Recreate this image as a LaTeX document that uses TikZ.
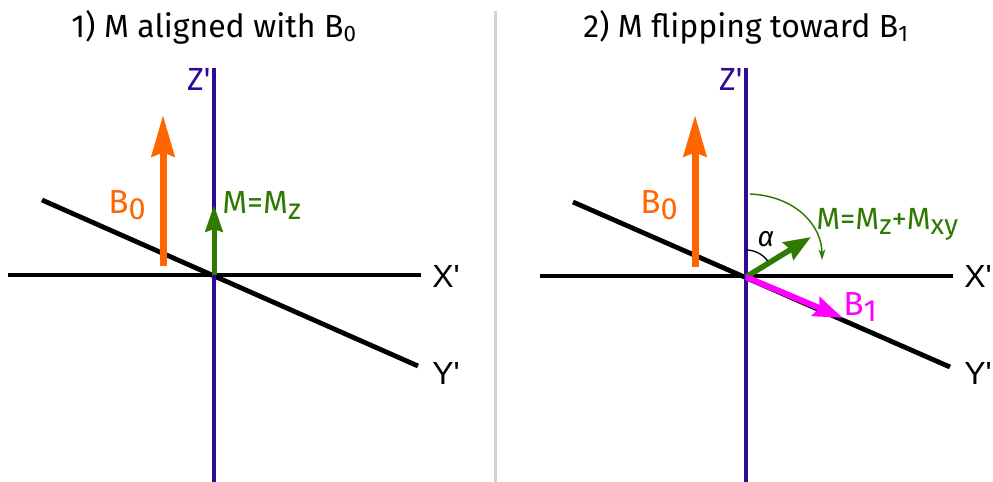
\documentclass[tikz,border=0pt]{standalone}
\usepackage{fontspec}
\setmainfont{Fira Sans}
\newfontfamily\arialf{Liberation Sans}
\usetikzlibrary{arrows.meta}
\definecolor{zaxis}{HTML}{2E0A96}
\definecolor{borange}{HTML}{FF6600}
\definecolor{mgreen}{HTML}{2F7A00}
\definecolor{bmag}{HTML}{FF00FF}
\definecolor{sepgray}{HTML}{D3D3D3}
\begin{document}
\begin{tikzpicture}[x=0.75pt,y=-0.75pt,
  axis/.style={line width=3.6pt,black},
  zax/.style={line width=3pt,zaxis},
  bzero/.style={line width=5.25pt,borange,-{Stealth[length=31pt,width=17pt,inset=3pt]}},
  mvec/.style={line width=3.75pt,mgreen,-{Stealth[length=20pt,width=13pt,inset=2pt]}},
  bone/.style={line width=4.5pt,bmag,-{Stealth[length=22pt,width=15pt,inset=3pt]}},
  title/.style={font=\fontsize{24pt}{28pt}\selectfont,anchor=base,inner sep=0pt},
  zlab/.style={font=\fontsize{24pt}{28pt}\selectfont,zaxis,inner sep=0pt},
  axlab/.style={font=\arialf\fontsize{24pt}{28pt}\selectfont,black,inner sep=0pt,anchor=west},
  blab/.style={font=\fontsize{25pt}{28pt}\selectfont,borange,inner sep=0pt},
  mlab/.style={font=\fontsize{24pt}{28pt}\selectfont,mgreen,inner sep=0pt},
]
\useasboundingbox (0,0) rectangle (993,482);
% separator
\coordinate (septop) at (495,11);
\coordinate (sepbot) at (495,482);
\draw[sepgray,line width=2.25pt] (septop) -- (sepbot);

% ---------- panel 1 ----------
\node[title] (t1) at (214,37) {1) M aligned with B\textsubscript{0}};
\coordinate (O1) at (214,275);
\coordinate (x1a) at (8,275);
\coordinate (x1b) at (421,275);
\coordinate (y1a) at (42,200);
\coordinate (y1b) at (418,366);
\coordinate (z1a) at (214,68);
\coordinate (z1b) at (214,482);
\draw[axis] (x1a) -- (x1b);
\draw[axis] (y1a) -- (y1b);
\draw[zax] (z1a) -- (z1b);
\node[zlab,anchor=north east] (zl1) at (211,68) {Z\textquotesingle};
\node[axlab] (xl1) at (432,276) {X'};
\node[axlab] (yl1) at (432,373) {Y'};
\coordinate (b0a) at (163,266);
\coordinate (b0b) at (163,115);
\draw[bzero] (b0a) -- (b0b);
\node[blab,anchor=base west] (bl1) at (108,213) {B\raisebox{-4.5pt}{\fontsize{23pt}{26pt}\selectfont 0}};
\coordinate (m1b) at (214,205);
\draw[mvec] (O1) -- (m1b);
\node[mlab,anchor=base west] (ml1) at (222,213) {M=M\raisebox{-4.5pt}{\fontsize{22pt}{26pt}\selectfont z}};

% ---------- panel 2 ----------
\node[title] (t2) at (746,37) {2) M flipping toward B\textsubscript{1}};
\coordinate (O2) at (746,277);
\coordinate (x2a) at (540,276);
\coordinate (x2b) at (953,276);
\coordinate (y2a) at (573,202);
\coordinate (y2b) at (950,367);
\coordinate (z2a) at (746,68);
\coordinate (z2b) at (746,482);
\draw[axis] (x2a) -- (x2b);
\draw[axis] (y2a) -- (y2b);
\draw[zax] (z2a) -- (z2b);
\node[zlab,anchor=north east] (zl2) at (743,68) {Z\textquotesingle};
\node[axlab] (xl2) at (964,276) {X'};
\node[axlab] (yl2) at (964,373) {Y'};
\coordinate (b0c) at (695,267);
\coordinate (b0d) at (695,115);
\draw[bzero] (b0c) -- (b0d);
\node[blab,anchor=base west] (bl2) at (640,213) {B\raisebox{-4.5pt}{\fontsize{23pt}{26pt}\selectfont 0}};
\coordinate (m2b) at (811,237);
\draw[mvec,line width=4.2pt,-{Stealth[length=20pt,width=15pt,inset=2pt]}] (O2) -- (m2b);
\coordinate (b1b) at (843,318);
\draw[bone] (O2) -- (b1b);
\node[font=\fontsize{25pt}{28pt}\selectfont,bmag,inner sep=0pt,anchor=base west] (b1l) at (843,315) {B\raisebox{-4.5pt}{\fontsize{23pt}{26pt}\selectfont 1}};
% alpha arc
\draw[black,line width=1pt] ([shift={(-90:27)}]O2) arc[start angle=-90,end angle=-37,radius=27];
\node[font=\fontsize{21pt}{24pt}\selectfont\itshape,inner sep=0pt] (al) at (766,239) {α};
% curved arrow
\coordinate (c1) at (750,194);
\coordinate (c2) at (822,260);
\draw[mgreen,line width=1.1pt,-{Stealth[length=8pt,width=5pt]}] (c1) .. controls (795,196) and (822,225) .. (c2);
\node[font=\fontsize{23pt}{26pt}\selectfont,mgreen,inner sep=0pt,anchor=base west] (ml2) at (816,229) {M=M\raisebox{-3.75pt}{\fontsize{21pt}{24pt}\selectfont z}+M\raisebox{-3.75pt}{\fontsize{21pt}{24pt}\selectfont xy}};
\end{tikzpicture}
\end{document}
